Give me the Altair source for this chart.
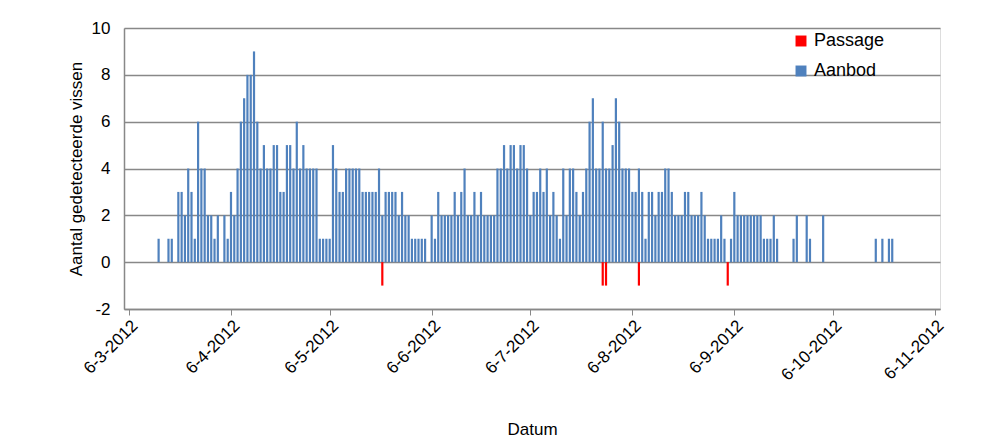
import altair as alt
import pandas as pd

# daily counts starting 2012-03-15 (Aanbod)
aanbod_start = "2012-03-15"
aanbod = [
    1, 0, 0, 1, 1, 0, 3, 3, 2, 4,
    3, 1, 6, 4, 4, 2, 2, 1, 2, 0,
    2, 1, 3, 2, 4, 6, 7, 8, 8, 9,
    6, 4, 5, 4, 4, 5, 5, 3, 3, 5,
    5, 4, 6, 4, 5, 4, 4, 4, 4, 1,
    1, 1, 1, 5, 4, 3, 3, 4, 4, 4,
    4, 4, 3, 3, 3, 3, 3, 4, 2, 3,
    3, 3, 3, 2, 3, 2, 2, 1, 1, 1,
    1, 1, 0, 2, 1, 3, 2, 2, 2, 2,
    3, 2, 3, 4, 2, 2, 3, 2, 3, 2,
    2, 2, 2, 4, 4, 5, 4, 5, 5, 4,
    5, 5, 4, 2, 3, 3, 4, 3, 4, 2,
    3, 2, 1, 4, 2, 4, 4, 3, 2, 3,
    4, 6, 7, 4, 4, 6, 4, 4, 5, 7,
    6, 4, 4, 4, 3, 3, 4, 3, 1, 3,
    3, 2, 3, 3, 4, 4, 3, 2, 2, 2,
    3, 3, 2, 2, 2, 3, 2, 1, 1, 1,
    1, 2, 1, 0, 1, 3, 2, 2, 2, 2,
    2, 2, 2, 2, 1, 1, 1, 2, 1, 0,
    0, 0, 0, 1, 2, 0, 0, 2, 1, 0,
    0, 0, 2, 0, 0, 0, 0, 0, 0, 0,
    0, 0, 0, 0, 0, 0, 0, 0, 1, 0,
    1, 0, 1, 1,
]
passage_dates = ["2012-05-22", "2012-07-28", "2012-07-29", "2012-08-08", "2012-09-04"]
passage_values = [-1, -1, -1, -1, -1]
tick_dates = ["2012-03-06", "2012-04-06", "2012-05-06", "2012-06-06", "2012-07-06",
              "2012-08-06", "2012-09-06", "2012-10-06", "2012-11-06"]

dates = pd.date_range(aanbod_start, periods=len(aanbod), freq="D")
df_a = pd.DataFrame({"datum": dates.strftime("%Y-%m-%d"), "val": aanbod, "serie": "Aanbod"})
df_a = df_a[df_a["val"] > 0]
df_p = pd.DataFrame({"datum": passage_dates, "val": passage_values, "serie": "Passage"})
df = pd.concat([df_a, df_p])

font = "Liberation Sans"
tick_vals = [alt.DateTime(year=int(d[:4]), month=int(d[5:7]), date=int(d[8:])) for d in tick_dates]

x = alt.X("datum:T", title="Datum",
          scale=alt.Scale(domain=[alt.DateTime(year=2012, month=3, date=6),
                                  alt.DateTime(year=2012, month=11, date=6)]),
          axis=alt.Axis(values=tick_vals, labelExpr="timeFormat(datum.value, '%-d-%-m-%Y')",
                        labelAngle=-45, labelAlign="right", labelBaseline="top",
                        grid=False, tickSize=6, tickColor="#888", domainColor="#888",
                        domainWidth=1.5, labelFontSize=17, titleFontSize=17,
                        titleFontWeight="normal", labelColor="black", titlePadding=38))
y = alt.Y("val:Q", title="Aantal gedetecteerde vissen",
          scale=alt.Scale(domain=[-2, 10], nice=False),
          axis=alt.Axis(values=[-2, 0, 2, 4, 6, 8, 10], grid=True, gridColor="#888",
                        gridWidth=1.5, domainColor="#888", domainWidth=1.5, tickSize=0,
                        labelPadding=14, labelExpr="replace(datum.label, '−', '-')",
                        labelFontSize=17, titleFontSize=17, titleFontWeight="normal",
                        labelColor="black", titlePadding=6))

color = alt.Color("serie:N",
                  scale=alt.Scale(domain=["Passage", "Aanbod"], range=["#ff0000", "#4f81bd"]),
                  legend=alt.Legend(title=None, orient="none", legendX=668, legendY=4,
                                    symbolType="square", symbolSize=120, labelFontSize=18,
                                    labelFont=font, rowPadding=12, symbolStrokeWidth=0))

bars = alt.Chart(df).mark_bar(width=2.2).encode(
    x=x, y=y, y2=alt.datum(0), color=color
)

chart = bars.properties(
    width=816, height=281,
    autosize=alt.AutoSizeParams(type="none"),
    padding={"left": 116, "top": 20, "right": 30, "bottom": 130},
).configure_view(stroke=None).configure(font=font)

chart.save("out.html", embed_options={"renderer": "svg", "actions": False})
